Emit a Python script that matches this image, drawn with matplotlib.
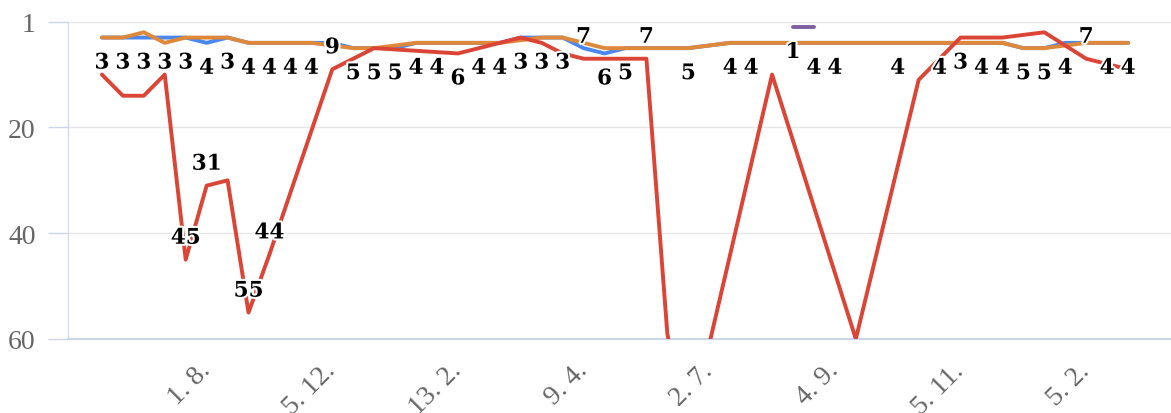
import numpy as np
import matplotlib.pyplot as plt
import matplotlib.patheffects as pe
import matplotlib.transforms as mtransforms

nan = np.nan

# pozice v kategoriich (50 terminu), popisky jen u kazdeho sesteho
tick_idx = [4, 10, 16, 22, 28, 34, 40, 46]
tick_labels = ['1. 8.', '5. 12.', '13. 2.', '9. 4.', '2. 7.', '4. 9.', '5. 11.', '5. 2.']

blue = [3, 3, 3, 3, 3, 4, 3, 4, 4, 4,
        4, 4, 5, 5, 5, 4, 4, 4, 4, 4,
        3, 3, 3, 5, 6, 5, 5, 5, 5, 4.5,
        4, 4, 4, 4, 4, 4, 4, 4, 4, 4,
        4, 4, 4, 4, 5, 5, 4, 4, 4, 4]

orange = [3, 3, 2, 4, 3, 3, 3, 4, 4, 4,
          4, 4.5, 5, 5, 4.5, 4, 4, 4, 4, 4,
          3.5, 3, 3, 4, 5, 5, 5, 5, 5, 4.5,
          4, 4, 4, 4, 4, 4, 4, 4, 4, 4,
          4, 4, 4, 4, 5, 5, 4.5, 4, 4, 4]

red = [10, 14, 14, 10, 45, 31, 30, 55, 44, nan,
       nan, 9, 7, 5, nan, nan, nan, 6, 5, 4,
       3, 4, 6, 7, 7, 7, 7, 59, 80, 61,
       nan, nan, 10, nan, nan, nan, 60, nan, nan, 11,
       nan, 3, 3, 3, nan, 2, nan, 7, 8, 9]

purple = [nan] * 33 + [1, 1] + [nan] * 15

# u kterych bodu je videt popisek hodnoty
blue_lbl = [0, 1, 2, 3, 4, 5, 6, 7, 8, 9, 10, 12, 13, 14, 15, 16, 18, 19,
            20, 21, 22, 24, 25, 28, 30, 31, 34, 35, 38, 40, 42, 43, 44, 45,
            46, 48, 49]
red_lbl = [4, 5, 7, 8, 11, 17, 23, 26, 41, 47]
purple_lbl = [33]

series = [
    (blue, '#4a88ee', blue_lbl),
    (orange, '#e0883a', []),
    (red, '#dc4436', red_lbl),
    (purple, '#7e5fa0', purple_lbl),
]

fig = plt.figure(figsize=(11.71, 4.14), dpi=100)
ax = fig.add_axes([68 / 1171, 1 - 340 / 414, 1 - 68 / 1171, (340 - 22.7) / 414])

for vals, col, lbls in series:
    y = np.array(vals, dtype=float)
    x = np.arange(len(y))
    ok = ~np.isnan(y)
    ax.plot(x[ok], y[ok], color=col, lw=2.8, solid_capstyle='round',
            solid_joinstyle='round', zorder=3)
    for i in lbls:
        v = y[i]
        dy = 15.8 if v >= 7 else -18
        ax.annotate(f'{v:g}', (i, v), xytext=(0, dy), textcoords='offset points',
                    ha='center', va='center', fontsize=15.5, fontweight='bold',
                    family='DejaVu Serif', color='black', zorder=5,
                    annotation_clip=False,
                    path_effects=[pe.withStroke(linewidth=3, foreground='white')])

ax.set_xlim(-1.62, 51.05)
ax.set_ylim(60, 0)
ax.set_yticks([0, 20, 40, 60])
ax.set_yticklabels(['1', '20', '40', '60'])
ax.set_xticks(tick_idx)
ax.set_xticklabels(tick_labels, rotation=45, ha='right', rotation_mode='anchor')

ax.grid(axis='y', color='#e6e6e6', lw=1)
ax.set_axisbelow(True)
for s in ['top', 'right']:
    ax.spines[s].set_visible(False)
ax.spines['left'].set_color('#ccd6eb')
ax.spines['bottom'].set_color('#ccd6eb')
ax.spines['bottom'].set_linewidth(1.5)

ax.tick_params(axis='y', length=14.4, color='#ccd6eb', width=1, pad=9,
               labelsize=20, labelcolor='#666666')
ax.tick_params(axis='x', length=0, pad=12, labelsize=20, labelcolor='#666666')
shift = mtransforms.ScaledTranslation(12 / 100, -2 / 100, fig.dpi_scale_trans)
for t in ax.get_xticklabels():
    t.set_transform(t.get_transform() + shift)
for t in ax.get_xticklabels() + ax.get_yticklabels():
    t.set_family('Liberation Serif')

fig.savefig('out.png', dpi=100)
